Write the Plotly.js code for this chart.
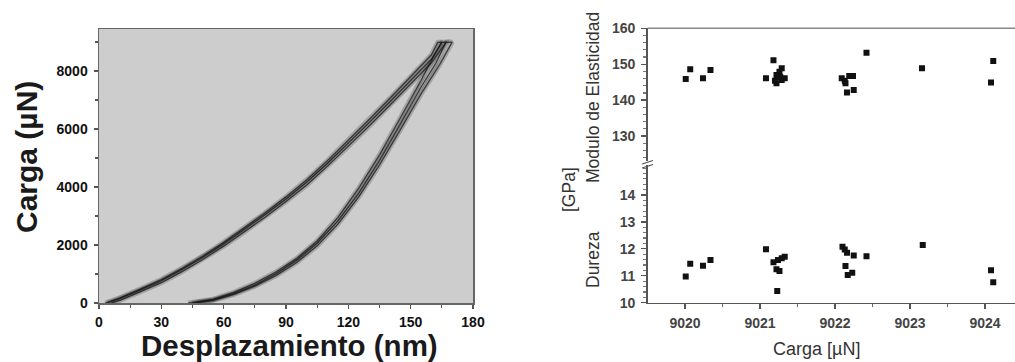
<!DOCTYPE html>
<html><head><meta charset="utf-8">
<script src="https://cdn.plot.ly/plotly-3.0.1.min.js"></script>
<style>html,body{margin:0;padding:0;background:#fff;}#chart{width:1015px;height:362px;}</style>
</head><body><div id="chart"></div>
<script>
// ---- Left chart: load-displacement curves ----
const load1_h = [3,10,20,30,40,50,60,70,80,90,100,110,120,130,140,150,160,163,165];
const load1_P = [0,180,490,810,1200,1620,2090,2590,3110,3660,4250,4910,5610,6330,7060,7800,8560,8990,9000];
const load2_h = [4,10,20,30,40,50,60,70,80,90,100,110,120,130,140,150,160,165,167];
const load2_P = [0,150,450,770,1160,1580,2040,2540,3050,3590,4170,4820,5510,6220,6940,7670,8410,8990,9000];
const load3_h = [6,10,20,30,40,50,60,70,80,90,100,110,120,130,140,150,160,167,170];
const load3_P = [0,90,390,700,1080,1500,1960,2450,2960,3500,4070,4720,5400,6100,6820,7550,8280,8990,9000];
const unload1_h = [165,160,155,145,135,125,115,105,95,85,75,65,55,43];
const unload1_P = [9000,8370,7680,6380,5110,3960,2950,2140,1530,1060,680,370,130,0];
const unload2_h = [167,162,155,145,135,125,115,105,95,85,75,65,55,45];
const unload2_P = [9000,8250,7450,6170,4920,3790,2830,2070,1470,1000,620,330,110,0];
const unload3_h = [170,164,155,145,135,125,115,105,95,85,75,65,55,47];
const unload3_P = [9000,8230,7210,5970,4760,3660,2720,1970,1390,940,580,300,90,0];

// ---- Right chart: modulus and hardness vs load ----
const modulo_x = [9020.01,9020.07,9020.24,9020.34,9021.08,9021.18,9021.29,9021.26,9021.22,9021.27,9021.33,9021.29,9021.22,9021.20,9022.09,9022.13,9022.19,9022.24,9022.14,9022.16,9022.25,9022.42,9023.16,9024.11,9024.08];
const modulo_y = [145.9,148.6,146.1,148.4,146.1,151.1,148.9,147.9,147.0,146.4,146.1,145.6,144.7,145.4,146.1,145.4,146.7,146.7,144.7,142.1,142.8,153.2,148.9,150.9,144.9];
const dureza_x = [9020.01,9020.07,9020.24,9020.34,9021.08,9021.18,9021.24,9021.29,9021.33,9021.22,9021.26,9021.23,9022.10,9022.13,9022.16,9022.25,9022.42,9022.14,9022.17,9022.23,9023.17,9024.08,9024.11];
const dureza_y = [10.97,11.45,11.37,11.59,11.99,11.50,11.59,11.65,11.71,11.24,11.18,10.43,12.08,11.98,11.86,11.75,11.73,11.36,11.03,11.11,12.14,11.21,10.76];

const xTicksLeft = [0,30,60,90,120,150,180];
const yTicksLeft = [0,2000,4000,6000,8000];
const xTicksRight = [9020,9021,9022,9023,9024];
const yTicksUpper = [130,140,150,160];
const yTicksLower = [10,11,12,13,14];

const W = 1015, H = 362;
const fx = v => v / W;
const fy = v => 1 - v / H;
const FONT = 'Arial, "Liberation Sans", sans-serif';

const tests = [[load1_h,load1_P,unload1_h,unload1_P],[load2_h,load2_P,unload2_h,unload2_P],[load3_h,load3_P,unload3_h,unload3_P]];
const traces = [];
tests.forEach(t => {
  const xs = t[0].concat(t[2]), ys = t[1].concat(t[3]);
  traces.push({x: xs, y: ys, type: 'scatter', mode: 'lines', xaxis: 'x', yaxis: 'y',
    line: {color: 'rgba(40,40,40,0.25)', width: 5, shape: 'linear'}, hoverinfo: 'skip', showlegend: false});
});
tests.forEach(t => {
  const xs = t[0].concat(t[2]), ys = t[1].concat(t[3]);
  traces.push({x: xs, y: ys, type: 'scatter', mode: 'lines', xaxis: 'x', yaxis: 'y',
    line: {color: 'rgba(15,15,15,0.7)', width: 1.3, shape: 'linear'}, showlegend: false});
});
traces.push({x: dureza_x, y: dureza_y, type: 'scatter', mode: 'markers', xaxis: 'x2', yaxis: 'y2',
  marker: {symbol: 'square', size: 6, color: '#111'}, showlegend: false});
traces.push({x: modulo_x, y: modulo_y, type: 'scatter', mode: 'markers', xaxis: 'x2', yaxis: 'y3',
  marker: {symbol: 'square', size: 6, color: '#111'}, showlegend: false});

const leftTick = {family: FONT, size: 14, color: '#111', weight: 700};
const rightTick = {family: FONT, size: 14, color: '#444', weight: 700};

const layout = {
  width: W, height: H,
  margin: {l: 0, r: 0, t: 0, b: 0},
  paper_bgcolor: '#fff', plot_bgcolor: 'rgba(0,0,0,0)',
  showlegend: false,
  xaxis: {domain: [fx(99), fx(473)], range: [0, 180], anchor: 'y',
    tickvals: xTicksLeft, ticktext: xTicksLeft.map(String), ticks: 'outside', ticklen: 4, tickwidth: 1.2, tickcolor: '#555',
    minor: {dtick: 15, ticks: 'outside', ticklen: 3, tickcolor: '#555', showgrid: false},
    showgrid: false, zeroline: false, showline: true, linecolor: '#666', linewidth: 1.5, mirror: true,
    tickfont: leftTick, ticklabelstandoff: 2},
  yaxis: {domain: [fy(303), fy(29)], range: [0, 9450], anchor: 'x',
    tickvals: yTicksLeft, ticktext: yTicksLeft.map(String), ticks: 'outside', ticklen: 4, tickwidth: 1.2, tickcolor: '#555',
    minor: {dtick: 1000, ticks: 'outside', ticklen: 3, tickcolor: '#555', showgrid: false},
    showgrid: false, zeroline: false, showline: true, linecolor: '#666', linewidth: 1.5, mirror: true,
    tickfont: leftTick, ticklabelstandoff: 3},
  xaxis2: {domain: [fx(647.7), 1], range: [9019.503, 9024.4], anchor: 'y2',
    tickvals: xTicksRight, ticktext: xTicksRight.map(String), ticks: 'outside', ticklen: 5, tickwidth: 1.2, tickcolor: '#555',
    minor: {dtick: 0.5, ticks: 'outside', ticklen: 3, tickcolor: '#666', showgrid: false},
    showgrid: false, zeroline: false, showline: true, linecolor: '#555', linewidth: 1.5,
    tickfont: rightTick, ticklabelstandoff: 2},
  yaxis2: {domain: [fy(302.7), fy(165)], range: [10, 15.115], anchor: 'x2',
    tickvals: yTicksLower, ticktext: yTicksLower.map(String), ticks: 'outside', ticklen: 5, tickwidth: 1.2, tickcolor: '#555',
    minor: {dtick: 0.2, ticks: 'outside', ticklen: 3, tickcolor: '#777', showgrid: false},
    showgrid: false, zeroline: false, showline: true, linecolor: '#555', linewidth: 1.5,
    tickfont: rightTick, ticklabelstandoff: 3},
  yaxis3: {domain: [fy(161), fy(28.3)], range: [123.03, 160], anchor: 'x2',
    tickvals: yTicksUpper, ticktext: yTicksUpper.map(String), ticks: 'outside', ticklen: 5, tickwidth: 1.2, tickcolor: '#555',
    minor: {dtick: 2, ticks: 'outside', ticklen: 3, tickcolor: '#777', showgrid: false},
    showgrid: false, zeroline: false, showline: true, linecolor: '#555', linewidth: 1.5,
    tickfont: rightTick, ticklabelstandoff: 3},
  shapes: [
    {type: 'rect', xref: 'x domain', yref: 'y domain', x0: 0, x1: 1, y0: 0, y1: 1, fillcolor: '#cdcdcd', line: {width: 0}, layer: 'below'},
    {type: 'line', xref: 'paper', yref: 'paper', x0: fx(647.7), x1: 1, y0: fy(28.3), y1: fy(28.3), line: {color: '#888', width: 1.5}},
    {type: 'line', xref: 'paper', yref: 'paper', x0: fx(642), x1: fx(653), y0: fy(164), y1: fy(160.5), line: {color: '#555', width: 1.3}},
    {type: 'line', xref: 'paper', yref: 'paper', x0: fx(642), x1: fx(653), y0: fy(168), y1: fy(164.5), line: {color: '#555', width: 1.3}}
  ],
  annotations: [
    {text: 'Desplazamiento (nm)', xref: 'paper', yref: 'paper', x: fx(289), y: fy(345), xanchor: 'center', yanchor: 'middle', showarrow: false,
      font: {family: FONT, size: 29.5, color: '#1a1a1a', weight: 700}},
    {text: 'Carga (µN)', xref: 'paper', yref: 'paper', x: fx(27), y: fy(157), xanchor: 'center', yanchor: 'middle', showarrow: false, textangle: -90,
      font: {family: FONT, size: 30, color: '#1a1a1a', weight: 700}},
    {text: 'Carga [µN]', xref: 'paper', yref: 'paper', x: fx(816), y: fy(349), xanchor: 'center', yanchor: 'middle', showarrow: false,
      font: {family: FONT, size: 18, color: '#333'}},
    {text: 'Modulo de Elasticidad', xref: 'paper', yref: 'paper', x: fx(593), y: fy(98), xanchor: 'center', yanchor: 'middle', showarrow: false, textangle: -90,
      font: {family: FONT, size: 17.5, color: '#333'}},
    {text: '[GPa]', xref: 'paper', yref: 'paper', x: fx(569), y: fy(190), xanchor: 'center', yanchor: 'middle', showarrow: false, textangle: -90,
      font: {family: FONT, size: 17.5, color: '#333'}},
    {text: 'Dureza', xref: 'paper', yref: 'paper', x: fx(593), y: fy(260), xanchor: 'center', yanchor: 'middle', showarrow: false, textangle: -90,
      font: {family: FONT, size: 17.5, color: '#333'}}
  ]
};
Plotly.newPlot('chart', traces, layout, {staticPlot: true, displayModeBar: false});
</script></body></html>
